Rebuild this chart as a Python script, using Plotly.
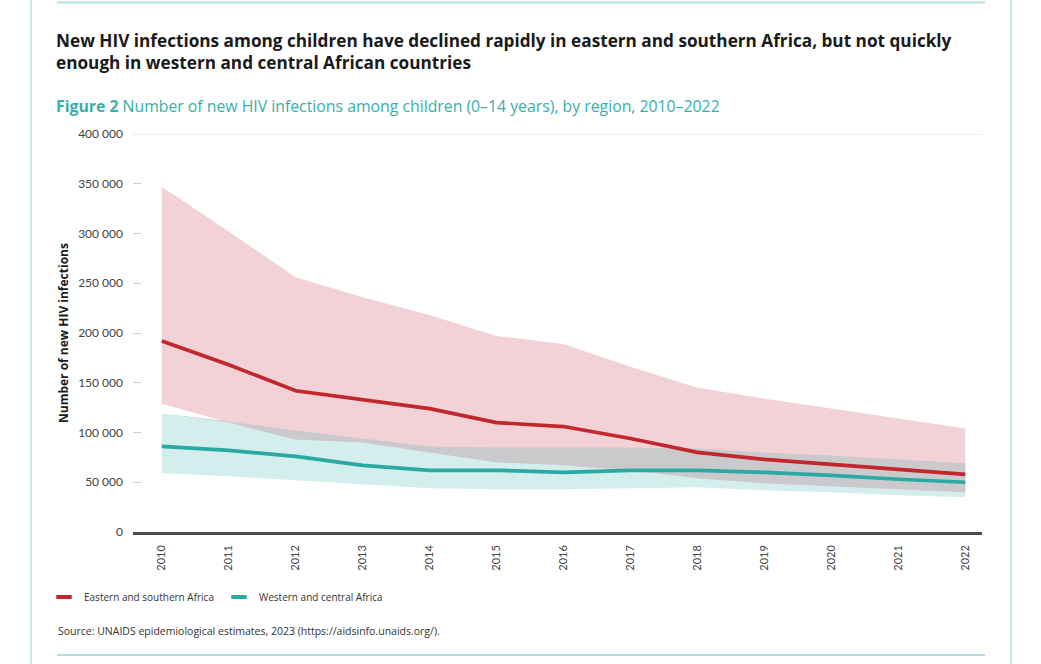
import plotly.graph_objects as go

# data
years = [2010, 2011, 2012, 2013, 2014, 2015, 2016, 2017, 2018, 2019, 2020, 2021, 2022]

esa_mid = [192000, 168000, 142000, 133000, 124000, 110000, 106000, 94000, 80000, 73000, 68000, 63000, 58000]
esa_hi = [347000, 302000, 256000, 236000, 218000, 197000, 189000, 166000, 145000, 134000, 124000, 114000, 104000]
esa_lo = [129000, 110000, 93000, 90000, 80000, 70000, 67000, 62000, 54000, 49000, 46000, 43000, 40000]

wca_mid = [86000, 82000, 76000, 67000, 62000, 62000, 60000, 62000, 62000, 60000, 57000, 53000, 50000]
wca_hi = [119000, 111000, 102000, 94000, 86000, 85000, 85000, 85000, 84000, 80000, 77000, 73000, 69000]
wca_lo = [59000, 56000, 52000, 48000, 44000, 43000, 43000, 44000, 45000, 42000, 40000, 37000, 35000]

y_ticks = [0, 50000, 100000, 150000, 200000, 250000, 300000, 350000, 400000]

series_names = ['Eastern and southern Africa', 'Western and central Africa']

title_text = ('New HIV infections among children have declined rapidly in eastern and southern Africa, but not quickly'
	'<br>enough in western and central African countries')
subtitle_text = ('<b>Figure 2</b> Number of new HIV infections among children (0–14 years), by region, 2010–2022')
source_text = 'Source: UNAIDS epidemiological estimates, 2023 (https://aidsinfo.unaids.org/).'

# colours
RED = '#c1272d'
TEAL = '#2aa9a5'
PINK_BAND = '#f3d2d7'
TEAL_BAND = '#d4eded'
OVERLAP = '#cacacd'
FRAME = '#b7dfe1'
FONT = 'Lato'
HEAD_FONT = 'Open Sans'

# layout in pixels of the page
W, H = 1041, 664
L, R, T, B = 133, 982, 134, 532

def px_x(x):
	return (x - L) / (R - L)

def px_y(y):
	return (B - y) / (B - T)

# overlap of the two uncertainty bands
ov_hi = [min(a, b) for a, b in zip(esa_hi, wca_hi)]
ov_lo = [min(max(a, b), h) for a, b, h in zip(esa_lo, wca_lo, ov_hi)]

fig = go.Figure()

def band(lo, hi, color):
	fig.add_trace(go.Scatter(x=years, y=lo, mode='lines', line=dict(width=0),
		showlegend=False, hoverinfo='skip'))
	fig.add_trace(go.Scatter(x=years, y=hi, mode='lines', line=dict(width=0),
		fill='tonexty', fillcolor=color, showlegend=False, hoverinfo='skip'))

band(wca_lo, wca_hi, TEAL_BAND)
band(esa_lo, esa_hi, PINK_BAND)
band(ov_lo, ov_hi, OVERLAP)

fig.add_trace(go.Scatter(x=years, y=wca_mid, mode='lines', line=dict(color=TEAL, width=3.7),
	name=series_names[1], showlegend=False))
fig.add_trace(go.Scatter(x=years, y=esa_mid, mode='lines', line=dict(color=RED, width=3.7),
	name=series_names[0], showlegend=False))

# legend entries drawn as short dashes
for name, color in zip(series_names, [RED, TEAL]):
	fig.add_trace(go.Scatter(x=[None], y=[None], mode='markers', name=name,
		marker=dict(symbol='line-ew', size=11, line=dict(color=color, width=4))))

shapes = [
	# top gridline
	dict(type='line', xref='paper', yref='y', x0=0, x1=1, y0=y_ticks[-1], y1=y_ticks[-1],
		line=dict(color='#d9d9d9', width=1)),
	# page frame
	dict(type='line', xref='paper', yref='paper', x0=px_x(31), x1=px_x(31), y0=px_y(0), y1=px_y(664),
		line=dict(color=FRAME, width=1.5)),
	dict(type='line', xref='paper', yref='paper', x0=px_x(1011), x1=px_x(1011), y0=px_y(0), y1=px_y(664),
		line=dict(color=FRAME, width=1.5)),
	dict(type='line', xref='paper', yref='paper', x0=px_x(57), x1=px_x(985), y0=px_y(2.5), y1=px_y(2.5),
		line=dict(color=FRAME, width=2)),
	dict(type='line', xref='paper', yref='paper', x0=px_x(57), x1=px_x(985), y0=px_y(655), y1=px_y(655),
		line=dict(color=FRAME, width=2)),
]

annotations = [
	dict(text='<b>' + title_text + '</b>', xref='paper', yref='paper', x=px_x(54), y=px_y(27),
		xanchor='left', yanchor='top', align='left', showarrow=False,
		font=dict(family=HEAD_FONT, size=17.2, color='#1a1a1a')),
	dict(text=subtitle_text, xref='paper', yref='paper', x=px_x(54), y=px_y(106),
		xanchor='left', yanchor='middle', align='left', showarrow=False,
		font=dict(family=HEAD_FONT, size=15.8, color='#3aaea9')),
	dict(text='<b>Number of new HIV infections</b>', xref='paper', yref='paper', x=px_x(63), y=px_y(333),
		xanchor='center', yanchor='middle', textangle=-90, showarrow=False,
		font=dict(family=HEAD_FONT, size=12, color='#1a1a1a')),
	dict(text=source_text, xref='paper', yref='paper', x=px_x(56), y=px_y(631),
		xanchor='left', yanchor='middle', showarrow=False,
		font=dict(family=HEAD_FONT, size=10.5, color='#333333')),
]

fig.update_layout(
	width=W, height=H,
	margin=dict(l=L, r=W - R, t=T, b=H - B),
	paper_bgcolor='white',
	plot_bgcolor='white',
	separators='. ',
	font=dict(family=FONT, color='#444444'),
	showlegend=True,
	legend=dict(orientation='h', x=px_x(44), y=px_y(597), xanchor='left', yanchor='middle',
		font=dict(family=HEAD_FONT, size=10, color='#333333'), itemwidth=30,
		traceorder='normal', bgcolor='rgba(0,0,0,0)', tracegroupgap=0),
	xaxis=dict(
		range=[2009.57, 2022.25],
		tickvals=years,
		ticktext=[str(y) for y in years],
		tickangle=-90,
		tickfont=dict(family=FONT, size=11, color='#444444'),
		showgrid=False, zeroline=False,
		showline=True, linecolor='#4d4d4d', linewidth=2.5,
		ticks='', ticklabelstandoff=6,
	),
	yaxis=dict(
		range=[0, 400000],
		tickvals=y_ticks,
		tickformat=',d',
		tickfont=dict(family=FONT, size=12, color='#444444'),
		showgrid=False, zeroline=False, showline=False,
		ticks='inside', ticklen=8, tickcolor='#d0d0d0', tickwidth=1,
		ticklabelstandoff=9,
	),
	shapes=shapes,
	annotations=annotations,
)

# the page body has a default margin; remove it so the figure fills the window
fig.write_html('out.html', config={'displayModeBar': False},
	post_script="document.body.style.margin = '0px';")
